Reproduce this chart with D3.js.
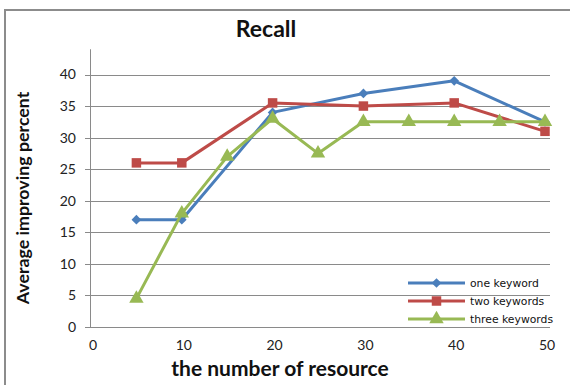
<!DOCTYPE html>
<html>
<head>
<meta charset="utf-8">
<script src="https://cdn.jsdelivr.net/npm/d3@7"></script>
<style>
  html, body { margin: 0; padding: 0; background: #fff; }
  svg { display: block; }
</style>
</head>
<body>
<svg id="chart" width="570" height="385"></svg>
<script>
// Recall: average improving percent vs. number of resources
const seriesNames = ["one keyword", "two keywords", "three keywords"];
const oneKeyword = [[5, 17], [10, 17], [20, 34], [30, 37], [40, 39], [50, 32.5]];
const twoKeywords = [[5, 26], [10, 26], [20, 35.5], [30, 35], [40, 35.5], [50, 31]];
const threeKeywords = [[5, 4.5], [10, 18], [15, 27], [20, 33], [25, 27.5], [30, 32.5],
                       [35, 32.5], [40, 32.5], [45, 32.5], [50, 32.5]];
const xTicks = [0, 10, 20, 30, 40, 50];
const yTicks = [0, 5, 10, 15, 20, 25, 30, 35, 40];

const colors = ["#4a7ebb", "#be4b48", "#98b954"];
const symbols = [d3.symbolDiamond2, d3.symbolSquare, d3.symbolTriangle];
const symbolSizes = [60, 90, 90];
const allSeries = [oneKeyword, twoKeywords, threeKeywords];

const svg = d3.select("#chart");
const font = "Lato, 'Open Sans', sans-serif";

// outer frame (left and top edges)
svg.append("path")
  .attr("d", "M5,385 V10 H570")
  .attr("fill", "none")
  .attr("stroke", "#8c8c8c")
  .attr("stroke-width", 2);

const x = d3.scaleLinear().domain([0, 50]).range([91, 545]);
const y = d3.scaleLinear().domain([0, 40]).range([327, 74.5]);

// horizontal gridlines
svg.append("g")
  .selectAll("line")
  .data(yTicks)
  .join("line")
  .attr("x1", x(0) - 6)
  .attr("x2", 550)
  .attr("y1", d => Math.round(y(d)) + 0.5)
  .attr("y2", d => Math.round(y(d)) + 0.5)
  .attr("stroke", "#8a8a8a")
  .attr("stroke-width", 1);

// y axis line
svg.append("line")
  .attr("x1", Math.round(x(0)) - 0.5)
  .attr("x2", Math.round(x(0)) - 0.5)
  .attr("y1", y(44))
  .attr("y2", Math.round(y(0)) + 0.5)
  .attr("stroke", "#8a8a8a");

// y tick labels
svg.append("g")
  .selectAll("text")
  .data(yTicks)
  .join("text")
  .attr("x", 76)
  .attr("y", d => y(d))
  .attr("dy", "0.35em")
  .attr("text-anchor", "end")
  .attr("font-family", font)
  .attr("font-size", 14)
  .attr("fill", "#222")
  .text(d => d);

// x tick labels
svg.append("g")
  .selectAll("text")
  .data(xTicks)
  .join("text")
  .attr("x", d => x(d) + 2)
  .attr("y", 345)
  .attr("dy", "0.35em")
  .attr("text-anchor", "middle")
  .attr("font-family", font)
  .attr("font-size", 14)
  .attr("fill", "#222")
  .text(d => d);

// series lines and markers
const line = d3.line().x(d => x(d[0])).y(d => y(d[1]));
allSeries.forEach((data, i) => {
  svg.append("path")
    .datum(data)
    .attr("d", line)
    .attr("fill", "none")
    .attr("stroke", colors[i])
    .attr("stroke-width", 3)
    .attr("stroke-linejoin", "round");
  svg.append("g")
    .selectAll("path")
    .data(data)
    .join("path")
    .attr("transform", d => `translate(${x(d[0])},${y(d[1])})`)
    .attr("d", d3.symbol().type(symbols[i]).size(symbolSizes[i]))
    .attr("fill", colors[i]);
});

// legend
const legend = svg.append("g").attr("transform", "translate(408,283)");
seriesNames.forEach((name, i) => {
  const row = legend.append("g").attr("transform", `translate(0,${i * 18})`);
  row.append("line")
    .attr("x1", 0).attr("x2", 57)
    .attr("stroke", colors[i])
    .attr("stroke-width", 3);
  row.append("path")
    .attr("transform", "translate(28.5,0)")
    .attr("d", d3.symbol().type(symbols[i]).size(symbolSizes[i]))
    .attr("fill", colors[i]);
  row.append("text")
    .attr("x", 62)
    .attr("dy", "0.35em")
    .attr("font-family", "'DejaVu Sans', Verdana, sans-serif")
    .attr("font-size", 10.8)
    .attr("fill", "#111")
    .text(name);
});

// title
svg.append("text")
  .attr("x", 266)
  .attr("y", 37)
  .attr("text-anchor", "middle")
  .attr("font-family", font)
  .attr("font-weight", "bold")
  .attr("font-size", 23)
  .attr("fill", "#111")
  .text("Recall");

// axis titles
svg.append("text")
  .attr("x", 280)
  .attr("y", 376)
  .attr("text-anchor", "middle")
  .attr("font-family", font)
  .attr("font-weight", "bold")
  .attr("font-size", 21)
  .attr("fill", "#111")
  .text("the number of resource");

svg.append("text")
  .attr("transform", "translate(29,198) rotate(-90)")
  .attr("text-anchor", "middle")
  .attr("font-family", font)
  .attr("font-weight", "bold")
  .attr("font-size", 17.8)
  .attr("fill", "#111")
  .text("Average improving percent");
</script>
</body>
</html>
